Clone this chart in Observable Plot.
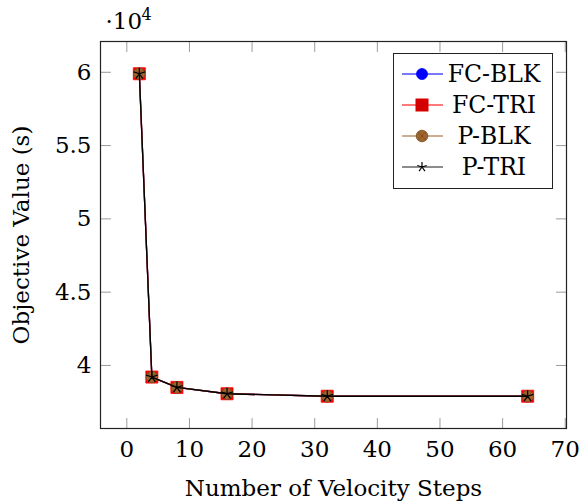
<!DOCTYPE html>
<html><head><meta charset="utf-8">
<script src="https://cdn.jsdelivr.net/npm/d3@7"></script>
<script src="https://cdn.jsdelivr.net/npm/@observablehq/plot@0.6"></script>
<style>
body{margin:0;background:#fff;}
#wrap{position:relative;width:579px;height:504px;font-family:"DejaVu Serif",serif;}
#legend{position:absolute;left:393px;top:53px;width:160px;height:136px;border:1px solid #222;background:#fff;box-sizing:border-box;}
.row{position:absolute;left:0;height:30px;width:158px;}
.row svg{position:absolute;left:7px;top:0;}
.row span{position:absolute;left:42px;right:0;text-align:center;font-size:23.5px;line-height:30px;color:#000;}
</style>
</head><body>
<div id="wrap"><div id="legend"></div></div>
<script>
const steps = [2, 4, 8, 16, 32, 64];
const fcBlk = [59900, 39210, 38500, 38070, 37900, 37900];
const fcTri = [59900, 39210, 38500, 38070, 37900, 37900];
const pBlk  = [59900, 39210, 38500, 38070, 37900, 37900];
const pTri  = [59900, 39210, 38500, 38070, 37900, 37900];
const seriesNames = ["FC-BLK", "FC-TRI", "P-BLK", "P-TRI"];
const xTicks = [0, 10, 20, 30, 40, 50, 60, 70];
const yTicks = [40000, 45000, 50000, 55000, 60000];

const seriesValues = [fcBlk, fcTri, pBlk, pTri];
const brown = "#a0652e";
const styles = [
  {line: "blue", fill: "blue", stroke: "blue", symbol: "circle", r: 5.5},
  {line: "red", fill: "red", stroke: "red", symbol: "square", r: 6.8},
  {line: brown, fill: brown, stroke: "#7a4a1f", symbol: "circle", r: 5.8, cross: true},
  {line: "black", fill: "none", stroke: "black", symbol: "star", r: 6}
];

const starSymbol = {draw(ctx, size) {
  const r = Math.sqrt(size / Math.PI);
  for (let k = 0; k < 5; k++) {
    const a = -Math.PI / 2 + k * 2 * Math.PI / 5;
    ctx.moveTo(0, 0); ctx.lineTo(r * Math.cos(a), r * Math.sin(a));
  }
}};
const crossSymbol = {draw(ctx, size) {
  const r = Math.sqrt(size / Math.PI) * 0.7;
  ctx.moveTo(-r, -r); ctx.lineTo(r, r);
  ctx.moveTo(-r, r); ctx.lineTo(r, -r);
}};
const tickShape = {draw(ctx, l) { ctx.moveTo(0, 0); ctx.lineTo(0, -l); }};

const rows = [];
seriesNames.forEach((name, i) => {
  seriesValues[i].forEach((v, j) => rows.push({series: name, idx: i, x: steps[j], y: v}));
});

const marks = [];
seriesNames.forEach((name, i) => {
  const s = styles[i];
  const data = rows.filter(d => d.idx === i);
  marks.push(Plot.line(data, {x: "x", y: "y", stroke: s.line, strokeWidth: 1.3}));
  if (s.symbol === "star") {
    marks.push(Plot.dot(data, {x: "x", y: "y", symbol: starSymbol, r: s.r, stroke: "black", fill: "none", strokeWidth: 1.2}));
  } else {
    marks.push(Plot.dot(data, {x: "x", y: "y", symbol: s.symbol, r: s.r, fill: s.fill, stroke: s.stroke, strokeWidth: 0.8}));
    if (s.cross) marks.push(Plot.dot(data, {x: "x", y: "y", symbol: crossSymbol, r: s.r, stroke: "#6b4319", fill: "none", strokeWidth: 0.6}));
  }
});

const tickStyle = {length: 10, anchor: "start", shape: tickShape, stroke: "#9a9a9a", strokeWidth: 1};

const chart = Plot.plot({
  width: 579, height: 504,
  marginLeft: 100, marginRight: 13, marginTop: 41, marginBottom: 76,
  style: {fontFamily: "'DejaVu Serif', serif", fontSize: "23px", color: "#000", background: "white"},
  x: {domain: [-4.2, 70.2]},
  y: {domain: [35700, 62100]},
  marks: [
    Plot.vector(xTicks, {x: d => d, frameAnchor: "bottom", rotate: 0, ...tickStyle}),
    Plot.vector(xTicks, {x: d => d, frameAnchor: "top", rotate: 180, ...tickStyle}),
    Plot.vector(yTicks, {y: d => d, frameAnchor: "left", rotate: 90, ...tickStyle}),
    Plot.vector(yTicks, {y: d => d, frameAnchor: "right", rotate: -90, ...tickStyle}),
    Plot.axisX({ticks: xTicks, tickSize: 0, tickPadding: 12, label: "Number of Velocity Steps", labelAnchor: "center", labelArrow: "none", labelOffset: 67, fontSize: 23}),
    Plot.axisY({ticks: yTicks, tickSize: 0, tickPadding: 9, tickFormat: d => String(d / 1e4), label: "Objective Value (s)", labelAnchor: "center", labelArrow: "none", labelOffset: 88, fontSize: 23}),
    ...marks,
    Plot.frame({stroke: "#222", strokeWidth: 1.2}),
    Plot.text(["·10"], {frameAnchor: "top-left", dx: 5, dy: -13, textAnchor: "start", lineAnchor: "bottom", fontSize: 23}),
    Plot.text(["4"], {frameAnchor: "top-left", dx: 41, dy: -22, textAnchor: "start", lineAnchor: "bottom", fontSize: 16})
  ]
});
document.getElementById("wrap").prepend(chart);

// legend
const legend = document.getElementById("legend");
const tops = [5, 36, 67, 98];
seriesNames.forEach((name, i) => {
  const s = styles[i];
  const row = document.createElement("div");
  row.className = "row";
  row.style.top = tops[i] + "px";
  const svg = d3.create("svg").attr("width", 44).attr("height", 30);
  svg.append("line").attr("x1", 1).attr("x2", 42).attr("y1", 15).attr("y2", 15)
    .attr("stroke", i === 3 ? "#666" : s.line).attr("stroke-width", 1.3).attr("stroke-opacity", i === 3 ? 1 : 0.7);
  const g = svg.append("g").attr("transform", "translate(21,15)");
  if (s.symbol === "circle") {
    g.append("circle").attr("r", s.r).attr("fill", s.fill).attr("stroke", s.stroke).attr("stroke-width", 0.8);
    if (s.cross) {
      const c = s.r * 0.7;
      g.append("path").attr("d", `M${-c},${-c}L${c},${c}M${-c},${c}L${c},${-c}`).attr("stroke", "#6b4319").attr("stroke-width", 0.6);
    }
  } else if (s.symbol === "square") {
    g.append("rect").attr("x", -6).attr("y", -6).attr("width", 12).attr("height", 12).attr("fill", "#d40000").attr("stroke", "#d40000");
  } else {
    const p = d3.path();
    starSymbol.draw(p, Math.PI * 25);
    g.append("path").attr("d", p.toString()).attr("stroke", "black").attr("stroke-width", 1.2).attr("fill", "none");
  }
  row.appendChild(svg.node());
  const span = document.createElement("span");
  span.textContent = name;
  row.appendChild(span);
  legend.appendChild(row);
});
</script>
</body></html>
